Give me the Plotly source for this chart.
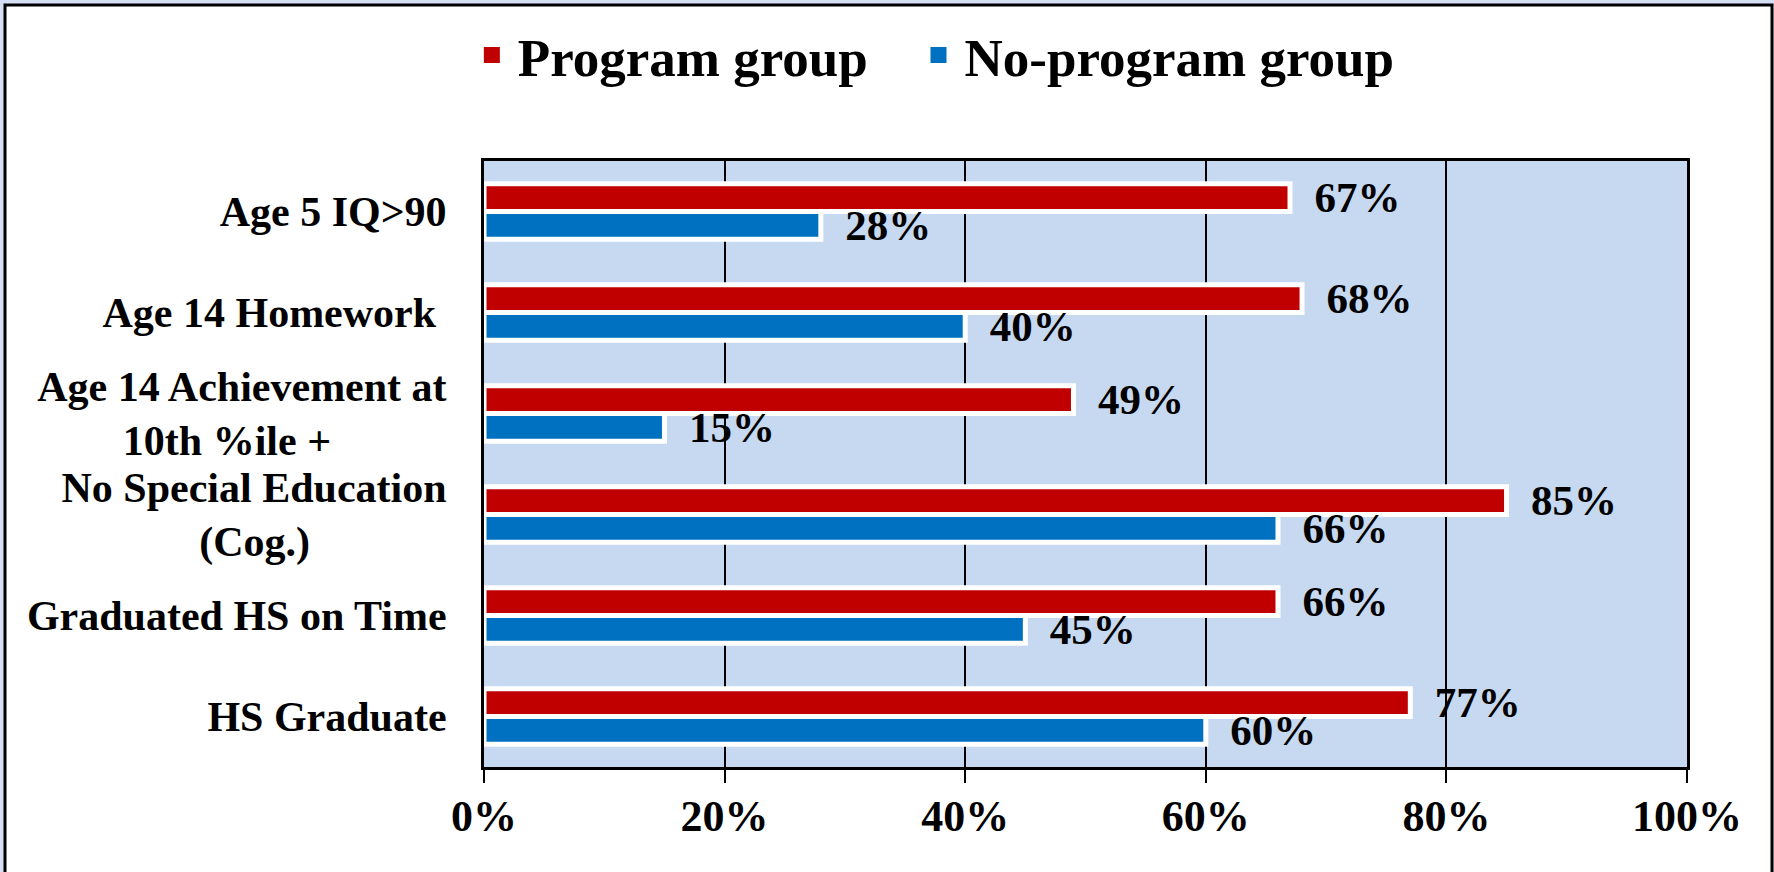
import plotly.graph_objects as go

NB = "\u00a0"
categories = [
    "Age 5 IQ>90",
    "Age 14 Homework" + NB,
    "Age 14 Achievement at<br>10th %ile +" + NB * 11,
    "No Special Education<br>(Cog.)" + NB * 13,
    "Graduated HS on Time",
    "HS Graduate",
]
program = [67, 68, 49, 85, 66, 77]
no_program = [28, 40, 15, 66, 45, 60]
series_names = ["Program group", "No-program group"]
legend_labels = ["Program group" + NB * 3, "No-program group"]
colors = ["#C00000", "#0070C0"]
x_ticks = [0, 20, 40, 60, 80, 100]

FONT = "Liberation Serif, Times New Roman, serif"
PAGE_BLUE = "#D4DFF3"

fig = go.Figure()
for name, vals, col in zip(series_names, [program, no_program], colors):
    fig.add_trace(go.Bar(
        y=categories, x=vals, name=name, orientation="h", showlegend=False,
        marker=dict(color=col, line=dict(color="white", width=5)),
        text=vals, texttemplate=NB + NB + "%{text}%", textposition="outside",
        textfont=dict(family=FONT, size=43, color="black", weight="bold"),
        outsidetextfont=dict(family=FONT, size=43, color="black", weight="bold"),
        constraintext="none", cliponaxis=False,
    ))
# legend entries (square swatches)
for name, col in zip(legend_labels, colors):
    fig.add_trace(go.Scatter(
        x=[None], y=[None], mode="markers", name=name,
        marker=dict(symbol="square", size=18, color=col, line=dict(width=0)),
    ))

# page frame: thin light-blue page strips + black-bordered card
L, R, T, B = 484, 1687, 161, 767
W, H = R - L, B - T
def px(x): return (x - L) / W
def py(y): return (B - y) / H
for (a, b, c, d) in [(0, 1774, 0, 5), (0, 5, 0, 872), (1772, 1774, 0, 872)]:
    fig.add_shape(type="rect", xref="paper", yref="paper",
                  x0=px(a), x1=px(b), y0=py(d), y1=py(c),
                  fillcolor=PAGE_BLUE, line=dict(width=0), layer="below")
fig.add_shape(type="rect", xref="paper", yref="paper",
              x0=px(5), x1=px(1772), y0=py(890), y1=py(5),
              fillcolor="rgba(0,0,0,0)", line=dict(color="black", width=3), layer="below")

fig.update_layout(
    template="none",
    width=1774, height=872,
    margin=dict(l=L, r=1774 - R, t=T, b=872 - B, autoexpand=False),
    paper_bgcolor="white",
    plot_bgcolor="#C6D9F0",
    barmode="group", bargap=0.45, bargroupgap=0,
    font=dict(family=FONT, size=42, color="black", weight="bold"),
    legend=dict(orientation="h", xref="container", yref="container",
                x=0.2626, y=1 - 55 / 872, xanchor="left", yanchor="middle",
                font=dict(family=FONT, size=53, color="black", weight="bold"),
                bgcolor="rgba(0,0,0,0)", itemwidth=42, itemsizing="trace"),
    showlegend=True,
)
fig.update_xaxes(range=[0, 100], tickvals=x_ticks, ticktext=[f"{v}%" for v in x_ticks],
                 showgrid=True, gridcolor="black", gridwidth=2,
                 showline=True, linecolor="black", linewidth=3, mirror=True,
                 ticks="outside", ticklen=13, tickwidth=2, tickcolor="black",
                 ticklabelstandoff=-5, zeroline=False, automargin=False,
                 tickfont=dict(family=FONT, size=44, color="black", weight="bold"))
fig.update_yaxes(autorange="reversed", showgrid=False,
                 showline=True, linecolor="black", linewidth=3, mirror=True,
                 ticks="", ticklabelstandoff=26, automargin=False, zeroline=False,
                 tickfont=dict(family=FONT, size=42, color="black", weight="bold"))

fig.write_html(
    "out.html",
    config={"displayModeBar": False},
    post_script="document.body.style.margin='0px';document.body.style.overflow='hidden';",
)
